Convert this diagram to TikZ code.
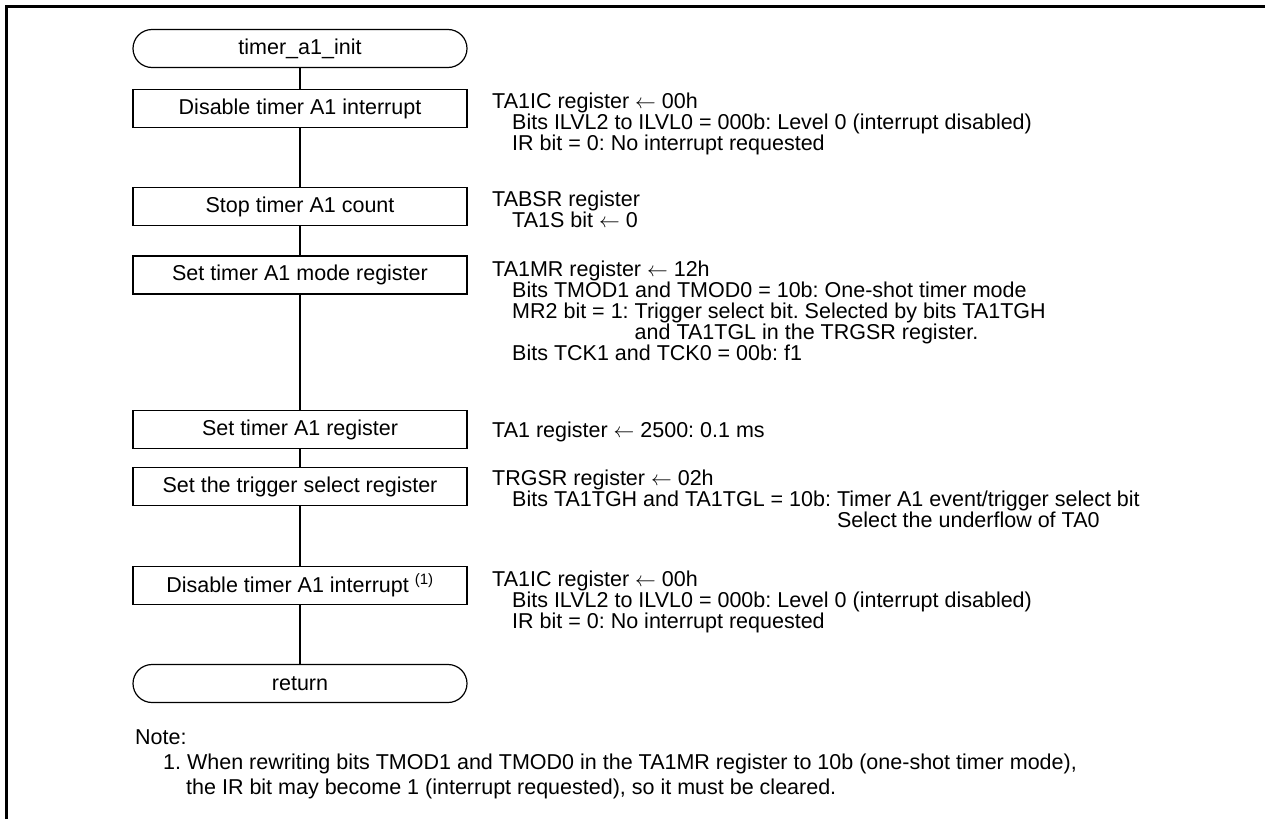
\documentclass[tikz,border=0pt]{standalone}
\usepackage{fontspec}
\setmainfont{Liberation Sans}
\newcommand\regind{\hspace*{20pt}}
\frenchspacing
\begin{document}
\begin{tikzpicture}[x=1pt,y=-1pt,
    every node/.style={font=\fontsize{21.5}{21}\selectfont},
    proc/.style={draw, line width=1.2pt, minimum width=334pt, minimum height=38pt, inner sep=0pt},
    term/.style={proc, rounded corners=19pt},
    regtext/.style={anchor=north west, inner sep=0pt, align=left},
    link/.style={line width=1.2pt}]
    \useasboundingbox (0,0) rectangle (1265,819);
    \draw [line width=3pt] (6.5,819) -- (6.5,6.5) -- (1265,6.5);
    \node [term] (start) at (300,48.5) {timer\_a1\_init};
    \node [proc] (dis1) at (300,108.5) {Disable timer A1 interrupt};
    \node [proc] (stop) at (300,206.5) {Stop timer A1 count};
    \node [proc] (mode) at (300,275) {Set timer A1 mode register};
    \node [proc] (treg) at (300,429.5) {Set timer A1 register};
    \node [proc] (trig) at (300,486.5) {Set the trigger select register};
    \node [proc] (dis2) at (300,585.5) {Disable timer A1 interrupt \textsuperscript{(1)}};
    \node [term] (ret) at (300,683.5) {return};
    \draw [link] (start) -- (dis1);
    \draw [link] (dis1) -- (stop);
    \draw [link] (stop) -- (mode);
    \draw [link] (mode) -- (treg);
    \draw [link] (treg) -- (trig);
    \draw [link] (trig) -- (dis2);
    \draw [link] (dis2) -- (ret);
    \node [regtext] (dis1txt) at (492,93) {TA1IC register $\leftarrow$ 00h\\
        \regind Bits ILVL2 to ILVL0 = 000b: Level 0 (interrupt disabled)\\
        \regind IR bit = 0: No interrupt requested};
    \node [regtext] (stoptxt) at (492,191) {TABSR register\\
        \regind TA1S bit $\leftarrow$ 0};
    \node [regtext] (modetxt) at (492,261) {TA1MR register $\leftarrow$ 12h\\
        \regind Bits TMOD1 and TMOD0 = 10b: One-shot timer mode\\
        \regind MR2 bit = 1: Trigger select bit. Selected by bits TA1TGH\\
        \regind\phantom{MR2 bit = 1: }and TA1TGL in the TRGSR register.\\
        \regind Bits TCK1 and TCK0 = 00b: f1};
    \node [regtext] (tregtxt) at (492,422) {TA1 register $\leftarrow$ 2500: 0.1 ms};
    \node [regtext] (trigtxt) at (492,470) {TRGSR register $\leftarrow$ 02h\\
        \regind Bits TA1TGH and TA1TGL = 10b: Timer A1 event/trigger select bit\\
        \regind\phantom{Bits TA1TGH and TA1TGL = 10b: }Select the underflow of TA0};
    \node [regtext] (dis2txt) at (492,571) {TA1IC register $\leftarrow$ 00h\\
        \regind Bits ILVL2 to ILVL0 = 000b: Level 0 (interrupt disabled)\\
        \regind IR bit = 0: No interrupt requested};
    \node [regtext, font=\fontsize{21.5}{25}\selectfont] (note) at (135,729) {Note:\\
        \hspace*{28pt}1. When rewriting bits TMOD1 and TMOD0 in the TA1MR register to 10b (one-shot timer mode),\\
        \hspace*{51pt}the IR bit may become 1 (interrupt requested), so it must be cleared.};
\end{tikzpicture}
\end{document}
